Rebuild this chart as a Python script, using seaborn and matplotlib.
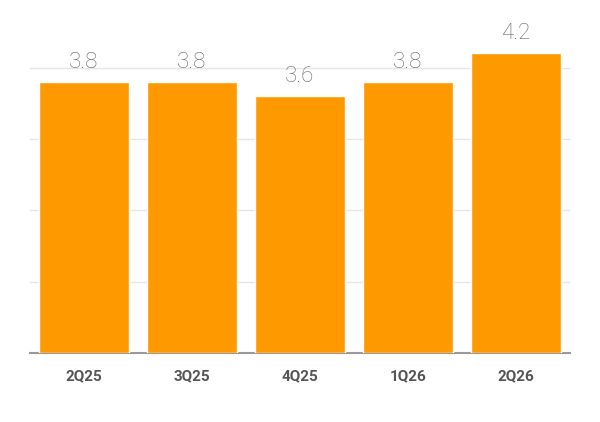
import matplotlib
matplotlib.use("Agg")
import matplotlib.pyplot as plt
import seaborn as sns
import pandas as pd

categories = ["2Q25", "3Q25", "4Q25", "1Q26", "2Q26"]
values = [3.8, 3.8, 3.6, 3.8, 4.2]

sns.set_style("white")
plt.rcParams['font.family'] = ['Roboto', 'DejaVu Sans']

fig = plt.figure(figsize=(6, 4.22), dpi=100)
ax = fig.add_axes([0.05, 0.1635, 0.9, 0.8365])
df = pd.DataFrame({"q": categories, "v": values})
sns.barplot(data=df, x="q", y="v", color="#FF9900", saturation=1, width=0.83, ax=ax, zorder=3)
ax.set_ylim(0, 4.95)
ax.set_yticks([1, 2, 3, 4])
ax.yaxis.grid(True, color="#e6e6e6", linewidth=1)
ax.tick_params(axis="y", left=False, labelleft=False)
ax.tick_params(axis="x", length=0, pad=12, labelsize=11, labelcolor="#555555")
for t in ax.get_xticklabels():
    t.set_fontweight("bold")
ax.set_xlabel("")
ax.set_ylabel("")
for s in ["top", "right", "left"]:
    ax.spines[s].set_visible(False)
ax.spines["bottom"].set_color("#999999")
ax.spines["bottom"].set_linewidth(1.5)
for i, v in enumerate(values):
    ax.text(i, v + 0.13, f"{v:.1f}", ha="center", va="bottom", fontsize=16, color="#666666", fontweight="light")
fig.savefig("out.png", dpi=100)
